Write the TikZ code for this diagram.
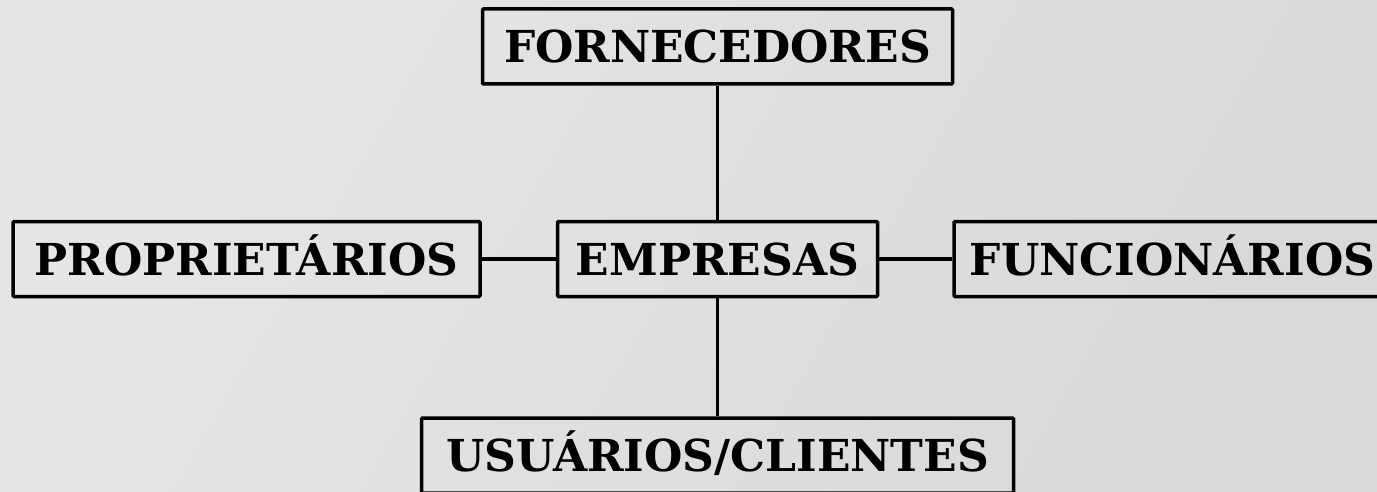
\documentclass[tikz,border=0pt]{standalone}
\usepackage{fontspec}
\setmainfont{DejaVu Serif}
\usepackage{xcolor}
\definecolor{mainDark}{HTML}{000000}
\definecolor{bgLight}{HTML}{E6E6E6}
\definecolor{bgDark}{HTML}{D9D9D9}
\usetikzlibrary{positioning,calc}
\tikzset{
  partBox/.style={
    rectangle,
    rounded corners=1pt,
    draw=mainDark,
    line width=3.5pt,
    minimum height=75pt,
    text height=32pt,
    text depth=0pt,
    inner sep=0pt,
    font=\fontsize{44}{50}\selectfont\bfseries,
    align=center
 },
  linkLine/.style={
    line width=3.5pt,
    color=mainDark
 }
}

\begin{document}
\begin{tikzpicture}[x=1pt,y=1pt]

            % page and background
            \clip (0,0) rectangle (1377,-492);
            \shade[left color=bgLight, right color=bgDark, shading angle=60] (0,0) rectangle (1377,-492);

            % EMPRESAS in the middle
            \node[partBox, minimum width=320pt] (emp) at (717.5,-259) {EMPRESAS};

            % FORNECEDORES on top
            \node[partBox, minimum width=470pt, above=134pt of emp] (forn) {FORNECEDORES};
            \draw[linkLine] (forn) -- (emp);

            % PROPRIETARIOS to the left
            \node[partBox, minimum width=467pt, left=74pt of emp] (prop) {PROPRIETÁRIOS};
            \draw[linkLine] (prop) -- (emp);

            % FUNCIONARIOS to the right (runs to the edge)
            \node[partBox, minimum width=437pt, right=73pt of emp] (func) {FUNCIONÁRIOS};
            \draw[linkLine] (emp) -- (func);

            % USUARIOS/CLIENTES on bottom (runs past the edge)
            \node[partBox, minimum width=592pt, below=118pt of emp] (usu) {USUÁRIOS/CLIENTES};
            \draw[linkLine] (emp) -- (usu);

        \end{tikzpicture}
\end{document}
